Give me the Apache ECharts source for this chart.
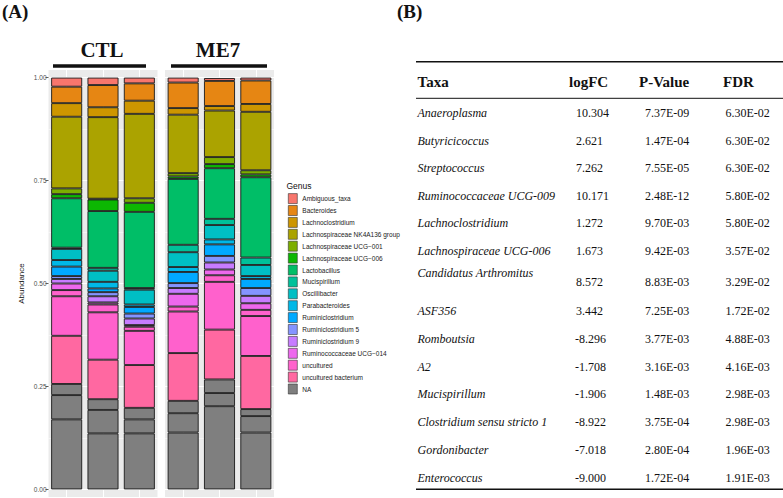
<!DOCTYPE html>
<html><head><meta charset="utf-8">
<script src="https://cdn.jsdelivr.net/npm/echarts@6/dist/echarts.min.js"></script>
<style>html,body{margin:0;padding:0;background:#fff}#c{width:783px;height:498px}</style>
</head><body><div id="c"></div>
<script>
// ---------- Panel A data ----------
const ctlSamples = ['CTL-1', 'CTL-2', 'CTL-3'];
const me7Samples = ['ME7-1', 'ME7-2', 'ME7-3'];
const yTickValues = [0, 0.25, 0.5, 0.75, 1];

// stacked layers, bottom -> top; six values: CTL-1..3, ME7-1..3
const naPart1        = [0.170, 0.136, 0.136, 0.138, 0.202, 0.138];
const naPart2        = [0.059, 0.057, 0.034, 0.047, 0.032, 0.040];
const naPart3        = [0.027, 0.026, 0.028, 0.030, 0.033, 0.017];
const unculturedBact = [0.117, 0.096, 0.104, 0.116, 0.121, 0.129];
const uncultured1    = [0.096, 0.115, 0.083, 0.101, 0.116, 0.097];
const uncultured2    = [0.015, 0.019, 0.010, 0.012, 0.016, 0.015];
const ruminoUCG014   = [0.016, 0.005, 0.004, 0.031, 0.014, 0.016];
const ruminiclo9     = [0.011, 0.015, 0.016, 0.014, 0.017, 0.018];
const ruminiclo5     = [0.007, 0.010, 0.012, 0.012, 0.016, 0.019];
const ruminiclo      = [0.023, 0.009, 0.016, 0.027, 0.028, 0.022];
const parabacteroides= [0.016, 0.016, 0.006, 0.012, 0.012, 0.007];
const oscillibacter  = [0.027, 0.027, 0.036, 0.036, 0.035, 0.027];
const mucispirillum  = [0.003, 0.007, 0.004, 0.018, 0.015, 0.018];
const lactobacillus  = [0.120, 0.138, 0.185, 0.160, 0.123, 0.195];
const lachnoUCG006   = [0.010, 0.028, 0.022, 0.006, 0.010, 0.007];
const lachnoUCG001   = [0.014, 0.002, 0.011, 0.008, 0.017, 0.010];
const lachnoNK4A136  = [0.174, 0.198, 0.205, 0.142, 0.113, 0.142];
const lachnoclostr   = [0.033, 0.024, 0.032, 0.016, 0.011, 0.019];
const bacteroides    = [0.040, 0.054, 0.042, 0.062, 0.061, 0.057];
const ambiguousTaxa  = [0.022, 0.018, 0.014, 0.012, 0.007, 0.007];

const genusLegend = ['Ambiguous_taxa','Bacteroides','Lachnoclostridium','Lachnospiraceae NK4A136 group',
  'Lachnospiraceae UCG\u2212001','Lachnospiraceae UCG\u2212006','Lactobacillus','Mucispirillum','Oscillibacter',
  'Parabacteroides','Ruminiclostridium','Ruminiclostridium 5','Ruminiclostridium 9',
  'Ruminococcaceae UCG\u2212014','uncultured','uncultured bacterium','NA'];
const genusColors = ['#F8766D','#E68613','#CD9600','#ABA300','#7CAE00','#0CB702','#00BE67','#00C19A','#00BFC4',
  '#00B8E7','#00A9FF','#8494FF','#C77CFF','#ED68ED','#FF61CC','#FF68A1','#7F7F7F'];

const layers = [
  ['NA', naPart1], ['NA', naPart2], ['NA', naPart3],
  ['uncultured bacterium', unculturedBact],
  ['uncultured', uncultured1], ['uncultured', uncultured2],
  ['Ruminococcaceae UCG\u2212014', ruminoUCG014],
  ['Ruminiclostridium 9', ruminiclo9], ['Ruminiclostridium 5', ruminiclo5],
  ['Ruminiclostridium', ruminiclo], ['Parabacteroides', parabacteroides],
  ['Oscillibacter', oscillibacter], ['Mucispirillum', mucispirillum],
  ['Lactobacillus', lactobacillus], ['Lachnospiraceae UCG\u2212006', lachnoUCG006],
  ['Lachnospiraceae UCG\u2212001', lachnoUCG001], ['Lachnospiraceae NK4A136 group', lachnoNK4A136],
  ['Lachnoclostridium', lachnoclostr], ['Bacteroides', bacteroides], ['Ambiguous_taxa', ambiguousTaxa]
];

// ---------- Panel B data ----------
const tableHeaders = ['Taxa', 'logFC', 'P-Value', 'FDR'];
const taxa = ['Anaeroplasma','Butyricicoccus','Streptococcus','Ruminococcaceae UCG-009','Lachnoclostridium',
  'Lachnospiraceae UCG-006','Candidatus Arthromitus','ASF356','Romboutsia','A2','Mucispirillum',
  'Clostridium sensu stricto 1','Gordonibacter','Enterococcus'];
const logFC = [10.304, 2.621, 7.262, 10.171, 1.272, 1.673, 8.572, 3.442, -8.296, -1.708, -1.906, -8.922, -7.018, -9.000];
const pValue = [7.37e-9, 1.47e-4, 7.55e-5, 2.48e-12, 9.70e-3, 9.42e-3, 8.83e-3, 7.25e-3, 3.77e-3, 3.16e-3, 1.48e-3, 3.75e-4, 2.80e-4, 1.72e-4];
const fdr = [6.30e-2, 6.30e-2, 6.30e-2, 5.80e-2, 5.80e-2, 3.57e-2, 3.29e-2, 1.72e-2, 4.88e-3, 4.16e-3, 2.98e-3, 2.98e-3, 1.96e-3, 1.91e-3];

// ---------- build ----------
function sci(v) {
  const parts = v.toExponential(2).split('e');
  const e = parts[1];
  const sign = e[0] === '-' ? '-' : '+';
  const digits = e.replace(/^[-+]/, '').padStart(2, '0');
  return parts[0] + 'E' + sign + digits;
}
const colorOf = name => genusColors[genusLegend.indexOf(name)];
const serif = '"Liberation Serif", "Times New Roman", serif';
const sans = '"Liberation Sans", Arial, sans-serif';

const series = [];
layers.forEach(([name, vals]) => {
  [0, 1].forEach(g => {
    series.push({
      type: 'bar', name: name, stack: 'grp' + g, xAxisIndex: g, yAxisIndex: g,
      barWidth: 31, data: vals.slice(g * 3, g * 3 + 3),
      itemStyle: { color: colorOf(name), borderColor: '#1a1a1a', borderWidth: 0.9 },
      emphasis: { disabled: true }, silent: true
    });
  });
});

const yMin = -0.0185, yMax = 1.0185;
function yAx(grid, main) {
  return {
    type: 'value', gridIndex: grid, min: yMin, max: yMax,
    name: main ? 'Abundance' : '', nameLocation: 'middle', nameGap: 23,
    nameTextStyle: { fontSize: 8, color: '#1a1a1a', fontFamily: sans },
    axisLine: { show: false },
    axisTick: { show: main, length: 3, lineStyle: { color: '#333', width: 0.8 }, customValues: yTickValues },
    axisLabel: { show: main, customValues: yTickValues, formatter: v => v.toFixed(2), fontSize: 6.5, color: '#4d4d4d', margin: 2, fontFamily: sans },
    splitLine: { show: true, lineStyle: { color: '#ffffff', width: 1 } }
  };
}
function yMinor(grid) {
  return {
    type: 'value', gridIndex: grid, min: yMin, max: yMax, show: true,
    axisLine: { show: false }, axisLabel: { show: false },
    axisTick: { show: false, customValues: [0.125, 0.375, 0.625, 0.875] },
    splitLine: { show: true, lineStyle: { color: '#ffffff', width: 0.5 } }
  };
}
function xCat(grid, data) {
  return { type: 'category', gridIndex: grid, data: data, axisLine: { show: false }, axisTick: { show: false }, axisLabel: { show: false }, splitLine: { show: false } };
}
function xGrid(grid) {
  return {
    type: 'value', gridIndex: grid, min: 0, max: 3, axisLine: { show: false }, axisLabel: { show: false },
    axisTick: { show: false, customValues: [0.5, 1.5, 2.5] },
    splitLine: { show: true, lineStyle: { color: '#ffffff', width: 1 } }
  };
}

const graphics = [];
function txt(text, x, y, font, align) {
  graphics.push({ type: 'text', silent: true, style: { text: text, x: x, y: y, font: font, fill: '#111', align: align || 'left', verticalAlign: 'middle' } });
}
function hline(x1, x2, y, w) {
  graphics.push({ type: 'line', silent: true, shape: { x1: x1, y1: y, x2: x2, y2: y }, style: { stroke: '#111', lineWidth: w } });
}
// panel labels
txt('(A)', 2, 11, 'bold 19px ' + serif);
txt('(B)', 397, 11, 'bold 19px ' + serif);
// group headers
txt('CTL', 102, 50, 'bold 21px ' + serif, 'center');
txt('ME7', 218, 50, 'bold 21px ' + serif, 'center');
hline(53, 146, 66, 3.3);
hline(171, 267, 66, 3.3);
// legend title
txt('Genus', 286.5, 186, '8.5px ' + sans);

// table
const colX = [417.5, 576, 645, 725.5];
const headX = [417.5, 569, 639, 723];
hline(416, 783, 61.7, 1.5);
hline(416, 783, 98.3, 1);
hline(416, 783, 489.3, 1.5);
tableHeaders.forEach((h, j) => txt(h, headX[j], 81.7, 'bold 15px ' + serif));
taxa.forEach((t, i) => {
  const y = i < 6 ? 113.3 + 27.5 * i : (i === 6 ? 281.7 : 311 + 27.8 * (i - 7));
  const ny = i === 6 ? 273.3 : y;
  txt(t, colX[0], ny, 'italic 12px ' + serif);
  txt(logFC[i].toFixed(3), colX[1] - (logFC[i] < 0 ? 1 : 0), y, '12px ' + serif);
  txt(sci(pValue[i]), colX[2], y, '12px ' + serif);
  txt(sci(fdr[i]), colX[3], y, '12px ' + serif);
});

const chart = echarts.init(document.getElementById('c'), null, { renderer: 'svg' });
chart.setOption({
  animation: false,
  backgroundColor: '#ffffff',
  textStyle: { fontFamily: sans },
  grid: [
    { left: 48.5, top: 70, width: 109, height: 427, show: true, backgroundColor: '#EBEBEB', borderWidth: 0 },
    { left: 165, top: 70, width: 109, height: 427, show: true, backgroundColor: '#EBEBEB', borderWidth: 0 }
  ],
  xAxis: [xCat(0, ctlSamples), xCat(1, me7Samples), xGrid(0), xGrid(1)],
  yAxis: [yAx(0, true), yAx(1, false), yMinor(0), yMinor(1)],
  legend: {
    data: genusLegend.map(n => ({ name: n, textStyle: { color: '#222222' } })),
    orient: 'vertical', left: 288, top: 193.3, padding: 0,
    itemWidth: 9, itemHeight: 10, itemGap: 1.3, icon: 'rect', selectedMode: false,
    itemStyle: { borderColor: '#333', borderWidth: 0.6 },
    textStyle: { fontSize: 6.5, color: '#222222', fontFamily: sans }
  },
  series: series,
  graphic: { elements: graphics }
});
</script>
</body></html>
